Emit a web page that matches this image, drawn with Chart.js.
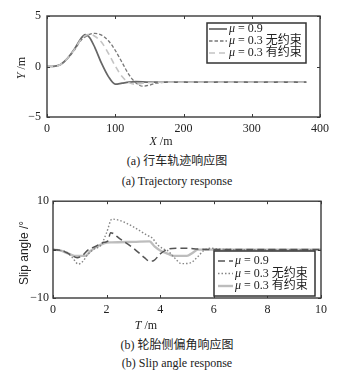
<!DOCTYPE html>
<html>
<head>
<meta charset="utf-8">
<script src="https://cdn.jsdelivr.net/npm/chart.js@4/dist/chart.umd.min.js"></script>
<style>
  body { margin: 0; background: #fff; width: 344px; height: 378px; position: relative; overflow: hidden; }
  canvas { position: absolute; left: 0; }
  .cap { position: absolute; left: 177px; transform: translateX(-50%); white-space: nowrap;
         font: 12px "Liberation Serif", "Noto Sans CJK SC"; line-height: 16px; color: #222; }
</style>
</head>
<body>
<canvas id="trajChart" width="344" height="150" style="top:0"></canvas>
<canvas id="slipChart" width="344" height="145" style="top:190px"></canvas>
<div class="cap" style="top:153px">(a) 行车轨迹响应图</div>
<div class="cap" style="top:173px">(a) Trajectory response</div>
<div class="cap" style="top:337px">(b) 轮胎侧偏角响应图</div>
<div class="cap" style="top:355px">(b) Slip angle response</div>
<script>
// friction cases
const muValues = ['0.9', '0.3', '0.3'];
const muTags = ['', '无约束', '有约束'];

// trajectory: lateral offset Y (m) vs distance X (m)
const trajX_09 = [0, 10, 20, 30, 40, 50, 56, 62, 70, 80, 90, 100, 110, 120, 130, 150, 200, 300, 380];
const trajY_09 = [0, 0.02, 0.2, 0.8, 1.7, 2.8, 3.15, 2.9, 1.9, 0.3, -1.0, -1.75, -1.65, -1.55, -1.5, -1.55, -1.55, -1.55, -1.55];
const trajX_03 = [0, 10, 20, 30, 40, 50, 60, 70, 80, 90, 100, 110, 120, 130, 140, 150, 160, 180, 250, 380];
const trajY_03 = [0, 0.02, 0.2, 0.8, 1.6, 2.6, 3.1, 3.28, 3.1, 2.55, 1.6, 0.4, -0.8, -1.6, -1.95, -1.85, -1.65, -1.55, -1.55, -1.55];
const trajX_03c = [0, 10, 20, 30, 40, 50, 62, 70, 80, 90, 100, 110, 120, 130, 140, 160, 250, 380];
const trajY_03c = [0, 0.02, 0.2, 0.8, 1.65, 2.7, 3.2, 3.0, 2.4, 1.3, 0.05, -1.0, -1.6, -1.75, -1.65, -1.55, -1.55, -1.55];

// tyre slip angle (deg) vs time
const slipT_09 = [0, 0.3, 0.5, 0.7, 0.9, 1.1, 1.3, 1.6, 1.9, 2.05, 2.15, 2.5, 3.0, 3.4, 3.6, 3.75, 4.0, 4.3, 4.6, 5.0, 5.4, 6, 10];
const slipA_09 = [0, -0.2, -0.6, -1.2, -1.7, -1.2, -0.1, 0.7, 1.5, 1.8, 3.5, 2.2, 0.3, -1.6, -2.4, -2.3, -0.9, 0.1, 0.3, 0.3, 0.1, 0, 0];
const slipT_03 = [0, 0.3, 0.5, 0.7, 0.95, 1.1, 1.3, 1.5, 1.8, 2.0, 2.2, 2.5, 3.0, 3.5, 3.7, 3.9, 4.1, 4.3, 4.5, 4.8, 5.1, 5.4, 5.6, 5.9, 6.2, 7, 10];
const slipA_03 = [0, -0.2, -0.5, -1.5, -3.0, -2.5, -1.0, 0, 1.0, 3.5, 6.3, 6.0, 4.7, 3.0, 2.4, 1.0, 0.2, -0.3, -1.5, -2.9, -2.8, -1.5, -0.3, 0.3, 0.1, 0, 0];
const slipT_03c = [0, 0.3, 0.6, 0.8, 1.2, 1.4, 1.6, 1.9, 2.2, 3.0, 3.6, 3.8, 4.0, 4.3, 4.5, 5.0, 5.2, 5.4, 6, 10];
const slipA_03c = [0, -0.2, -0.9, -1.3, -1.3, -0.3, 0.5, 1.3, 1.5, 1.6, 1.7, 0.6, -0.2, -0.9, -1.3, -1.3, -0.7, 0, 0, 0];

// axis ticks
const trajXTicks = [0, 100, 200, 300, 400];
const trajYTicks = [-5, 0, 5];
const slipTTicks = [0, 2, 4, 6, 8, 10];
const slipATicks = [-10, 0, 10];

const serif = '"Liberation Serif", "Noto Sans CJK SC"';
const ink = '#222';

function pts(xs, ys) {
  return xs.map((x, i) => ({ x: x, y: ys[i] }));
}

function line(ctx, x1, y1, x2, y2) {
  ctx.beginPath(); ctx.moveTo(x1, y1); ctx.lineTo(x2, y2); ctx.stroke();
}

// box frame, inward ticks, axis titles and the boxed legend
const paper = {
  id: 'paper',
  afterDatasetsDraw(chart, args, o) {
    const { ctx, chartArea: a, scales: { x, y } } = chart;
    ctx.save();
    ctx.strokeStyle = '#3a3a3a';
    ctx.lineWidth = 1;
    ctx.setLineDash([]);
    x.ticks.forEach(t => {
      const px = Math.round(x.getPixelForValue(t.value)) + 0.5;
      line(ctx, px, a.bottom, px, a.bottom - 3);
      line(ctx, px, a.top, px, a.top + 3);
    });
    y.ticks.forEach(t => {
      const py = Math.round(y.getPixelForValue(t.value)) + 0.5;
      line(ctx, a.left, py, a.left + 3, py);
      line(ctx, a.right, py, a.right - 3, py);
    });
    ctx.lineWidth = 1.4;
    ctx.strokeRect(a.left, a.top, a.right - a.left, a.bottom - a.top);

    // legend
    const lg = o.legend;
    ctx.fillStyle = '#fff';
    ctx.fillRect(lg.left, lg.top, lg.width, lg.height);
    ctx.strokeStyle = '#333';
    ctx.lineWidth = 1.5;
    ctx.strokeRect(lg.left, lg.top, lg.width, lg.height);
    ctx.textBaseline = 'middle';
    ctx.textAlign = 'left';
    lg.order.forEach((di, i) => {
      const ds = chart.data.datasets[di];
      const yy = lg.top + lg.rows[i];
      ctx.strokeStyle = ds.borderColor;
      ctx.lineWidth = ds.borderWidth;
      ctx.setLineDash(ds.borderDash || []);
      line(ctx, lg.left + lg.lineX[0], yy, lg.left + lg.lineX[1], yy);
      ctx.setLineDash([]);
      ctx.fillStyle = ink;
      let tx = lg.left + lg.textX;
      ctx.font = 'italic 12px ' + serif;
      ctx.fillText('μ', tx, yy);
      tx += ctx.measureText('μ').width;
      ctx.font = '12px ' + serif;
      const tag = muTags[ds.caseIdx];
      ctx.fillText(' = ' + muValues[ds.caseIdx] + (tag ? ' ' + tag : ''), tx, yy);
    });

    // x axis title: italic variable + unit
    ctx.fillStyle = ink;
    const xt = o.xTitle;
    ctx.font = 'italic 12px ' + serif;
    const w1 = ctx.measureText(xt.v).width;
    ctx.font = '12px ' + serif;
    const w2 = ctx.measureText(xt.unit).width;
    let sx = xt.cx - (w1 + w2) / 2;
    ctx.font = 'italic 12px ' + serif;
    ctx.fillText(xt.v, sx, xt.cy);
    ctx.font = '12px ' + serif;
    ctx.fillText(xt.unit, sx + w1, xt.cy);

    // y axis title, rotated
    const yt = o.yTitle;
    ctx.translate(yt.cx, yt.cy);
    ctx.rotate(-Math.PI / 2);
    ctx.font = (yt.italic ? 'italic ' : '') + '12px ' + yt.family;
    const v1 = ctx.measureText(yt.v).width;
    ctx.font = '12px ' + yt.family;
    const v2 = ctx.measureText(yt.unit).width;
    sx = -(v1 + v2) / 2;
    ctx.font = (yt.italic ? 'italic ' : '') + '12px ' + yt.family;
    ctx.fillText(yt.v, sx, 0);
    ctx.font = '12px ' + yt.family;
    ctx.fillText(yt.unit, sx + v1, 0);
    ctx.restore();
  }
};

function axis(min, max, ticks, size, pad, isX) {
  return {
    type: 'linear',
    min: min,
    max: max,
    afterBuildTicks: s => { s.ticks = ticks.map(v => ({ value: v })); },
    afterFit: s => { if (isX) s.height = size; else s.width = size; },
    grid: { display: false, drawTicks: false },
    border: { display: false },
    ticks: { padding: pad, color: ink, maxRotation: 0, autoSkip: false,
             font: { family: serif, size: 12 },
             // typographic minus for negative ticks
             callback: v => String(v).replace('-', '\u2212') }
  };
}

function lineSet(data, color, width, dash, caseIdx) {
  return {
    data: data, borderColor: color, borderWidth: width, borderDash: dash,
    pointRadius: 0, fill: false, tension: 0.35, cubicInterpolationMode: 'monotone',
    caseIdx: caseIdx
  };
}

const trajChart = new Chart(document.getElementById('trajChart'), {
  type: 'line',
  data: {
    datasets: [
      lineSet(pts(trajX_03c, trajY_03c), '#c4c4c4', 1.6, [6, 4], 2),
      lineSet(pts(trajX_03, trajY_03), '#787878', 1.3, [3.5, 2], 1),
      lineSet(pts(trajX_09, trajY_09), '#666666', 1.7, [], 0)
    ]
  },
  options: {
    responsive: false,
    animation: false,
    layout: { padding: { top: 16, right: 24, left: 0, bottom: 0 } },
    scales: {
      x: axis(0, 400, trajXTicks, 33, 5, true),
      y: axis(-5, 5, trajYTicks, 47, 6, false)
    },
    plugins: {
      legend: { display: false },
      tooltip: { enabled: false },
      paper: {
        legend: { left: 207, top: 23, width: 99, height: 40, order: [2, 1, 0],
                  rows: [6, 18, 30], lineX: [2, 20], textX: 22 },
        xTitle: { v: 'X', unit: ' /m', cx: 161, cy: 142 },
        yTitle: { v: 'Y', unit: ' /m', cx: 22, cy: 68, italic: true, family: serif }
      }
    }
  },
  plugins: [paper]
});

const slipChart = new Chart(document.getElementById('slipChart'), {
  type: 'line',
  data: {
    datasets: [
      lineSet(pts(slipT_09, slipA_09), '#555555', 1.5, [7, 4], 0),
      lineSet(pts(slipT_03, slipA_03), '#858585', 1.4, [1.5, 2], 1),
      lineSet(pts(slipT_03c, slipA_03c), '#bdbdbd', 2.4, [], 2)
    ]
  },
  options: {
    responsive: false,
    animation: false,
    layout: { padding: { top: 10, right: 23, left: 0, bottom: 0 } },
    scales: {
      x: axis(0, 10, slipTTicks, 37, 5, true),
      y: axis(-10, 10, slipATicks, 53, 4, false)
    },
    plugins: {
      legend: { display: false },
      tooltip: { enabled: false },
      paper: {
        legend: { left: 214, top: 61, width: 101, height: 45, order: [0, 1, 2],
                  rows: [10, 22.5, 35], lineX: [4, 19], textX: 21 },
        xTitle: { v: 'T', unit: ' /m', cx: 146, cy: 136 },
        yTitle: { v: 'Slip angle', unit: ' /°', cx: 25, cy: 63, italic: false,
                  family: '"Liberation Sans", Arial' }
      }
    }
  },
  plugins: [paper]
});
</script>
</body>
</html>
